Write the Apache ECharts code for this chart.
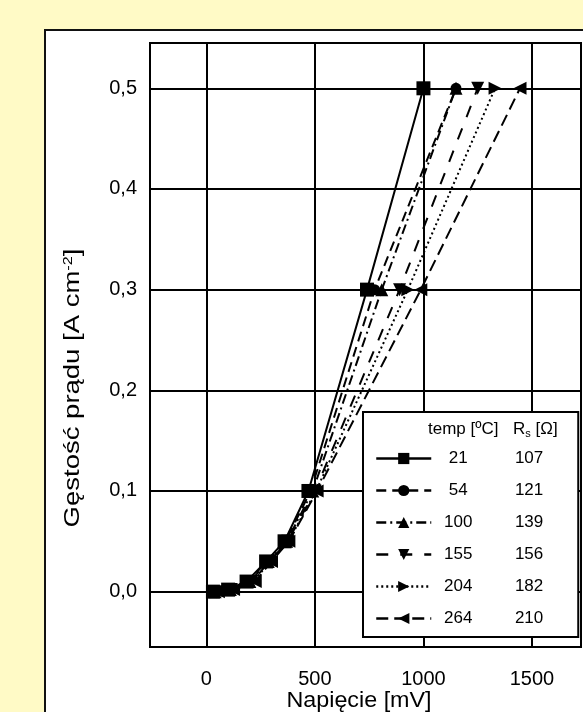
<!DOCTYPE html>
<html>
<head>
<meta charset="utf-8">
<script src="https://cdn.jsdelivr.net/npm/echarts@6/dist/echarts.min.js"></script>
<style>
  html, body { margin: 0; padding: 0; background: #FFFAC6; }
  #panel { position: absolute; left: 44px; top: 29px; width: 539px; height: 683px; background: #fff; border-left: 2px solid #111; border-top: 2px solid #111; box-sizing: border-box; }
  #chart { position: absolute; left: 0; top: 0; width: 583px; height: 712px; }
</style>
</head>
<body>
<div id="panel"></div>
<div id="chart"></div>
<script>
// Data
const currents = [0, 0.002, 0.01, 0.03, 0.05, 0.1, 0.3, 0.5];
const v21  = [30, 100, 185, 275, 360, 470, 740, 1000];
const v54  = [35, 105, 190, 280, 365, 480, 775, 1150];
const v100 = [40, 110, 200, 285, 370, 490, 808, 1150];
const v155 = [45, 115, 210, 290, 375, 500, 890, 1250];
const v204 = [50, 120, 215, 295, 378, 505, 928, 1330];
const v264 = [55, 125, 225, 300, 380, 510, 988, 1445];
const temps = ['21', '54', '100', '155', '204', '264'];
const rs = ['107', '121', '139', '156', '182', '210'];
const xTicks = [0, 500, 1000, 1500];
const yTicks = [0, 0.1, 0.2, 0.3, 0.4, 0.5];

const volts = [v21, v54, v100, v155, v204, v264];
const symbols = ['rect', 'circle', 'triangle', 'triangle', 'triangle', 'triangle'];
const rotates = [0, 0, 0, 180, -90, 90];
const sizes = [14, 11, 13, 13, 13, 13];
const dashes = ['solid', [10, 6], [10, 4, 2, 4], [12, 12], [2, 3], [12, 6]];

const series = volts.map((v, i) => ({
  name: temps[i],
  type: 'line',
  data: v.map((x, k) => [x, currents[k]]),
  symbol: symbols[i],
  symbolRotate: rotates[i],
  symbolSize: sizes[i],
  showAllSymbol: true,
  itemStyle: { color: '#000' },
  lineStyle: { color: '#000', width: 2, type: dashes[i] },
  z: 3 + i
}));

const chart = echarts.init(document.getElementById('chart'), null, { renderer: 'canvas' });
const font = 'Liberation Sans, Arial, sans-serif';
chart.setOption({
  animation: false,
  backgroundColor: 'transparent',
  grid: { left: 150, top: 43, right: 2, bottom: 65, show: true, borderColor: '#000', borderWidth: 2, backgroundColor: '#fff', outerBoundsMode: 'none', containLabel: false },
  xAxis: {
    type: 'value', min: -260, max: 1726,
    axisLine: { show: true, lineStyle: { color: '#000', width: 2 } },
    axisTick: { show: true, inside: false, length: 6, customValues: xTicks, lineStyle: { color: '#000', width: 2 } },
    axisLabel: { customValues: xTicks, margin: 22, fontSize: 20, fontFamily: font, color: '#000',
      formatter: v => String(v) },
    splitLine: { show: true, lineStyle: { color: '#000', width: 2 } }
  },
  yAxis: {
    type: 'value', min: -0.055, max: 0.545,
    axisLine: { show: true, lineStyle: { color: '#000', width: 2 } },
    axisTick: { show: true, inside: false, length: 5, customValues: yTicks, lineStyle: { color: '#000', width: 2 } },
    axisLabel: { customValues: yTicks, margin: 13, fontSize: 20, fontFamily: font, color: '#000',
      formatter: v => v.toFixed(1).replace('.', ',') },
    splitLine: { show: true, lineStyle: { color: '#000', width: 2 } }
  },
  legend: {
    orient: 'vertical', left: 363, top: 412,
    padding: [38, 35, 10, 12],
    backgroundColor: '#fff', borderColor: '#000', borderWidth: 2,
    itemWidth: 55, itemHeight: 14, itemGap: 15,
    lineStyle: { width: 2.5 },
    data: temps,
    formatter: name => {
      const i = temps.indexOf(name);
      return '{t|' + temps[i] + '}{r|' + rs[i] + '}';
    },
    textStyle: {
      fontFamily: font, fontSize: 17, color: '#000',
      rich: {
        t: { width: 44, align: 'center', fontSize: 17, fontFamily: font, lineHeight: 20 },
        r: { width: 63, align: 'right', fontSize: 17, fontFamily: font, lineHeight: 20 }
      }
    }
  },
  graphic: [
    { type: 'text', z: 100, left: 428, top: 421,
      style: { text: 'temp [ºC]', font: '17px ' + font, fill: '#000' } },
    { type: 'text', z: 100, left: 513, top: 421,
      style: { text: 'R{s|s} [Ω]', font: '17px ' + font, fill: '#000',
        rich: { s: { fontSize: 11, verticalAlign: 'bottom', padding: [8, 0, 0, 0], fontFamily: font } } } },
    { type: 'text', z: 100, x: 359, y: 701, scaleX: 1.06,
      style: { text: 'Napięcie [mV]', font: '22px ' + font, fill: '#000',
        align: 'center', verticalAlign: 'middle' } },
    { type: 'text', z: 100, x: 73, y: 388, rotation: Math.PI / 2, scaleX: 1.25,
      style: { text: 'Gęstość prądu [A cm{sup|-2}]', font: '22px ' + font, fill: '#000',
        align: 'center', verticalAlign: 'middle',
        rich: { sup: { fontSize: 13, verticalAlign: 'top', padding: [0, 0, 10, 0], fontFamily: font } } } }
  ],
  series: series
});
</script>
</body>
</html>
